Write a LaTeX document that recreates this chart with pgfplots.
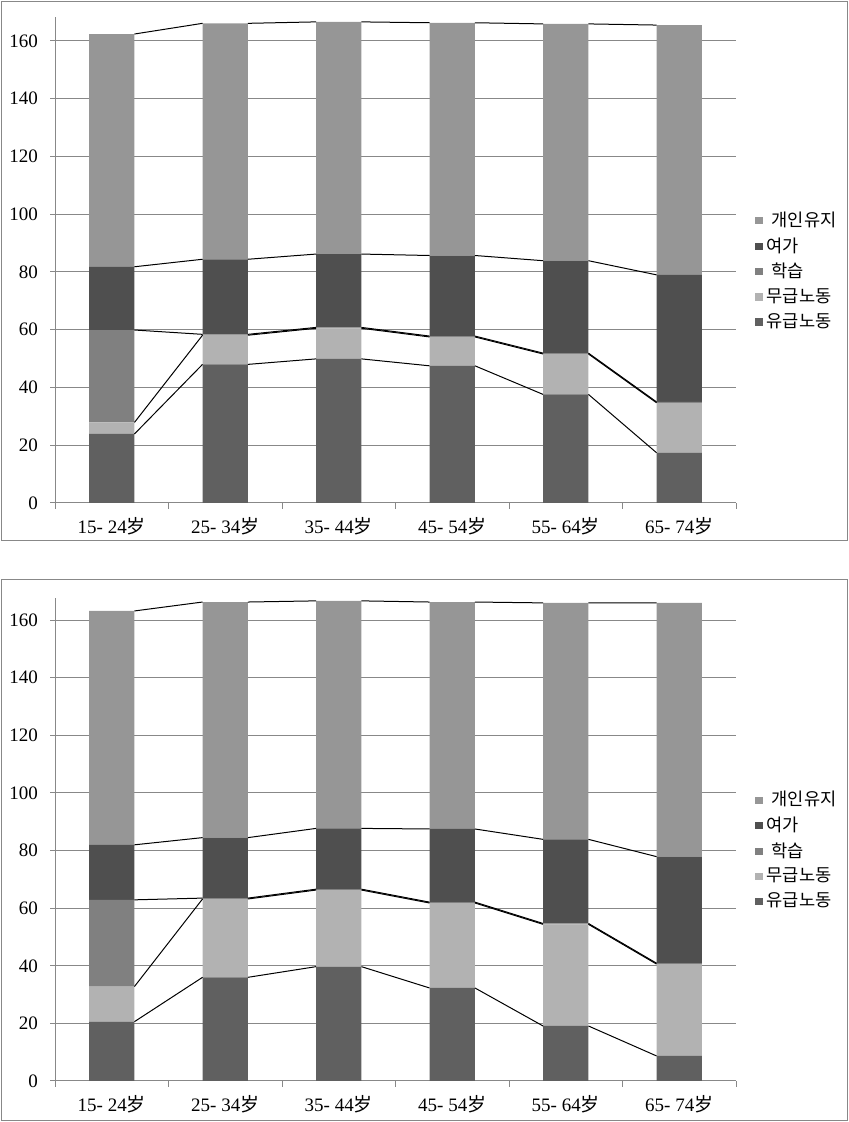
\documentclass[border=0pt]{standalone}
\usepackage{fontspec}
\setmainfont{Liberation Serif}
\newfontfamily\cjk{Noto Sans CJK KR}
\usepackage{pgfplots}
\usepackage{pgfplotstable}
\pgfplotsset{compat=1.18}

\definecolor{cPersonal}{HTML}{969696}
\definecolor{cLeisure}{HTML}{4F4F4F}
\definecolor{cLearn}{HTML}{808080}
\definecolor{cUnpaid}{HTML}{B2B2B2}
\definecolor{cPaid}{HTML}{606060}
\definecolor{cFrame}{HTML}{888888}

% segment heights per age group
\pgfplotstableread{
x paid unpaid learn leisure personal
0 23.9  4.0 32.0 21.9 80.6
1 48.0 10.1  0.3 26.0 81.7
2 49.9 10.6  0.3 25.4 80.4
3 47.5 10.0  0.3 27.9 80.6
4 37.6 14.0  0.3 32.0 82.0
5 17.4 17.3  0.3 44.0 86.5
}\topdata
\pgfplotstableread{
x paid unpaid learn leisure personal
0 20.6 12.2 30.1 19.1 81.2
1 36.0 27.2  0.3 21.0 81.8
2 39.7 26.6  0.3 21.1 79.0
3 32.3 29.5  0.3 25.4 78.8
4 19.1 35.3  0.3 29.2 82.1
5  8.7 31.9  0.3 37.0 88.1
}\botdata

\pgfplotsset{
  frame/.style={scale only axis,width=340.5pt,height=242pt,
    xmin=-0.5,xmax=5.5,ymin=0,ymax=168,anchor=south west},
  panel/.style={frame,
    axis x line*=bottom,axis y line*=left,
    axis line style={cFrame,line width=0.5pt},
    ytick={0,20,...,160},ymajorgrids,
    grid style={cFrame,line width=0.5pt},
    tick align=outside,major tick length=2.5pt,minor tick length=3pt,
    ytick style={cFrame,line width=0.5pt},
    xtick={0,...,5},
    xticklabels={15- 24{\cjk 岁},25- 34{\cjk 岁},35- 44{\cjk 岁},45- 54{\cjk 岁},55- 64{\cjk 岁},65- 74{\cjk 岁}},
    major x tick style={draw=none},
    minor xtick={-0.5,0.5,...,5.5},
    minor x tick style={cFrame,line width=0.5pt},
    /pgf/number format/assume math mode=true,
    ticklabel style={font=\fontsize{9.5}{11}\selectfont},
    yticklabel style={xshift=-2.5pt},
    xticklabel style={yshift=-1pt},
    ybar stacked,bar width=0.4,
    reverse legend,
    legend style={at={(1.028,0.477)},anchor=west,draw=none,fill=none,
      font=\cjk\fontsize{8.8}{10}\selectfont,row sep=0pt,
      inner sep=0pt,cells={anchor=west}},
    legend image code/.code={\fill[##1,draw=none] (0pt,-1.8pt) rectangle (3.6pt,1.8pt);},
  },
  sline/.style={black,line width=0.5pt,unbounded coords=jump,forget plot},
}

\begin{document}
\begin{tikzpicture}
\path[use as bounding box] (0,0) rectangle (424.5pt,561pt);
\draw[cFrame,line width=0.5pt] (0.75pt,290.5pt) rectangle (423.75pt,560.25pt);
\draw[cFrame,line width=0.5pt] (0.75pt,0.75pt) rectangle (423.75pt,271pt);

% ---- top panel ----
\begin{axis}[panel,at={(27.5pt,309.5pt)},height=243pt,ymax=168.3]
\addplot[fill=cPaid,draw=none] table[x=x,y=paid] {\topdata};
\addplot[fill=cUnpaid,draw=none] table[x=x,y=unpaid] {\topdata};
\addplot[fill=cLearn,draw=none] table[x=x,y=learn] {\topdata};
\addplot[fill=cLeisure,draw=none] table[x=x,y=leisure] {\topdata};
\addplot[fill=cPersonal,draw=none] table[x=x,y=personal] {\topdata};
\legend{유급노동,무급노동,\hspace{2.5pt}학습,여가,\hspace{2.5pt}개인유지}
\end{axis}
\begin{axis}[frame,hide axis,at={(27.5pt,309.5pt)},height=243pt,ymax=168.3]
\addplot[sline] coordinates {(0.2,23.9)(0.8,48.0)(1,nan)(1.2,48.0)(1.8,49.9)(2,nan)(2.2,49.9)(2.8,47.5)(3,nan)(3.2,47.5)(3.8,37.6)(4,nan)(4.2,37.6)(4.8,17.4)};
\addplot[sline] coordinates {(0.2,27.9)(0.8,58.1)(1,nan)(1.2,58.1)(1.8,60.5)(2,nan)(2.2,60.5)(2.8,57.5)(3,nan)(3.2,57.5)(3.8,51.6)(4,nan)(4.2,51.6)(4.8,34.7)};
\addplot[sline] coordinates {(0.2,59.9)(0.8,58.4)(1,nan)(1.2,58.4)(1.8,60.8)(2,nan)(2.2,60.8)(2.8,57.8)(3,nan)(3.2,57.8)(3.8,51.9)(4,nan)(4.2,51.9)(4.8,35.0)};
\addplot[sline] coordinates {(0.2,81.8)(0.8,84.4)(1,nan)(1.2,84.4)(1.8,86.2)(2,nan)(2.2,86.2)(2.8,85.7)(3,nan)(3.2,85.7)(3.8,83.9)(4,nan)(4.2,83.9)(4.8,79.0)};
\addplot[sline] coordinates {(0.2,162.4)(0.8,166.1)(1,nan)(1.2,166.1)(1.8,166.6)(2,nan)(2.2,166.6)(2.8,166.3)(3,nan)(3.2,166.3)(3.8,165.9)(4,nan)(4.2,165.9)(4.8,165.5)};
\end{axis}

% ---- bottom panel ----
\begin{axis}[panel,at={(27.5pt,20.5pt)},height=241.5pt,ymax=167.7]
\addplot[fill=cPaid,draw=none] table[x=x,y=paid] {\botdata};
\addplot[fill=cUnpaid,draw=none] table[x=x,y=unpaid] {\botdata};
\addplot[fill=cLearn,draw=none] table[x=x,y=learn] {\botdata};
\addplot[fill=cLeisure,draw=none] table[x=x,y=leisure] {\botdata};
\addplot[fill=cPersonal,draw=none] table[x=x,y=personal] {\botdata};
\legend{유급노동,무급노동,\hspace{2.5pt}학습,여가,\hspace{2.5pt}개인유지}
\end{axis}
\begin{axis}[frame,hide axis,at={(27.5pt,20.5pt)},height=241.5pt,ymax=167.7]
\addplot[sline] coordinates {(0.2,20.6)(0.8,36.0)(1,nan)(1.2,36.0)(1.8,39.7)(2,nan)(2.2,39.7)(2.8,32.3)(3,nan)(3.2,32.3)(3.8,19.1)(4,nan)(4.2,19.1)(4.8,8.7)};
\addplot[sline] coordinates {(0.2,32.8)(0.8,63.2)(1,nan)(1.2,63.2)(1.8,66.3)(2,nan)(2.2,66.3)(2.8,61.8)(3,nan)(3.2,61.8)(3.8,54.4)(4,nan)(4.2,54.4)(4.8,40.6)};
\addplot[sline] coordinates {(0.2,62.9)(0.8,63.5)(1,nan)(1.2,63.5)(1.8,66.6)(2,nan)(2.2,66.6)(2.8,62.1)(3,nan)(3.2,62.1)(3.8,54.7)(4,nan)(4.2,54.7)(4.8,40.9)};
\addplot[sline] coordinates {(0.2,82.0)(0.8,84.5)(1,nan)(1.2,84.5)(1.8,87.7)(2,nan)(2.2,87.7)(2.8,87.5)(3,nan)(3.2,87.5)(3.8,83.9)(4,nan)(4.2,83.9)(4.8,77.9)};
\addplot[sline] coordinates {(0.2,163.2)(0.8,166.3)(1,nan)(1.2,166.3)(1.8,166.7)(2,nan)(2.2,166.7)(2.8,166.3)(3,nan)(3.2,166.3)(3.8,166.0)(4,nan)(4.2,166.0)(4.8,166.0)};
\end{axis}
\end{tikzpicture}
\end{document}
